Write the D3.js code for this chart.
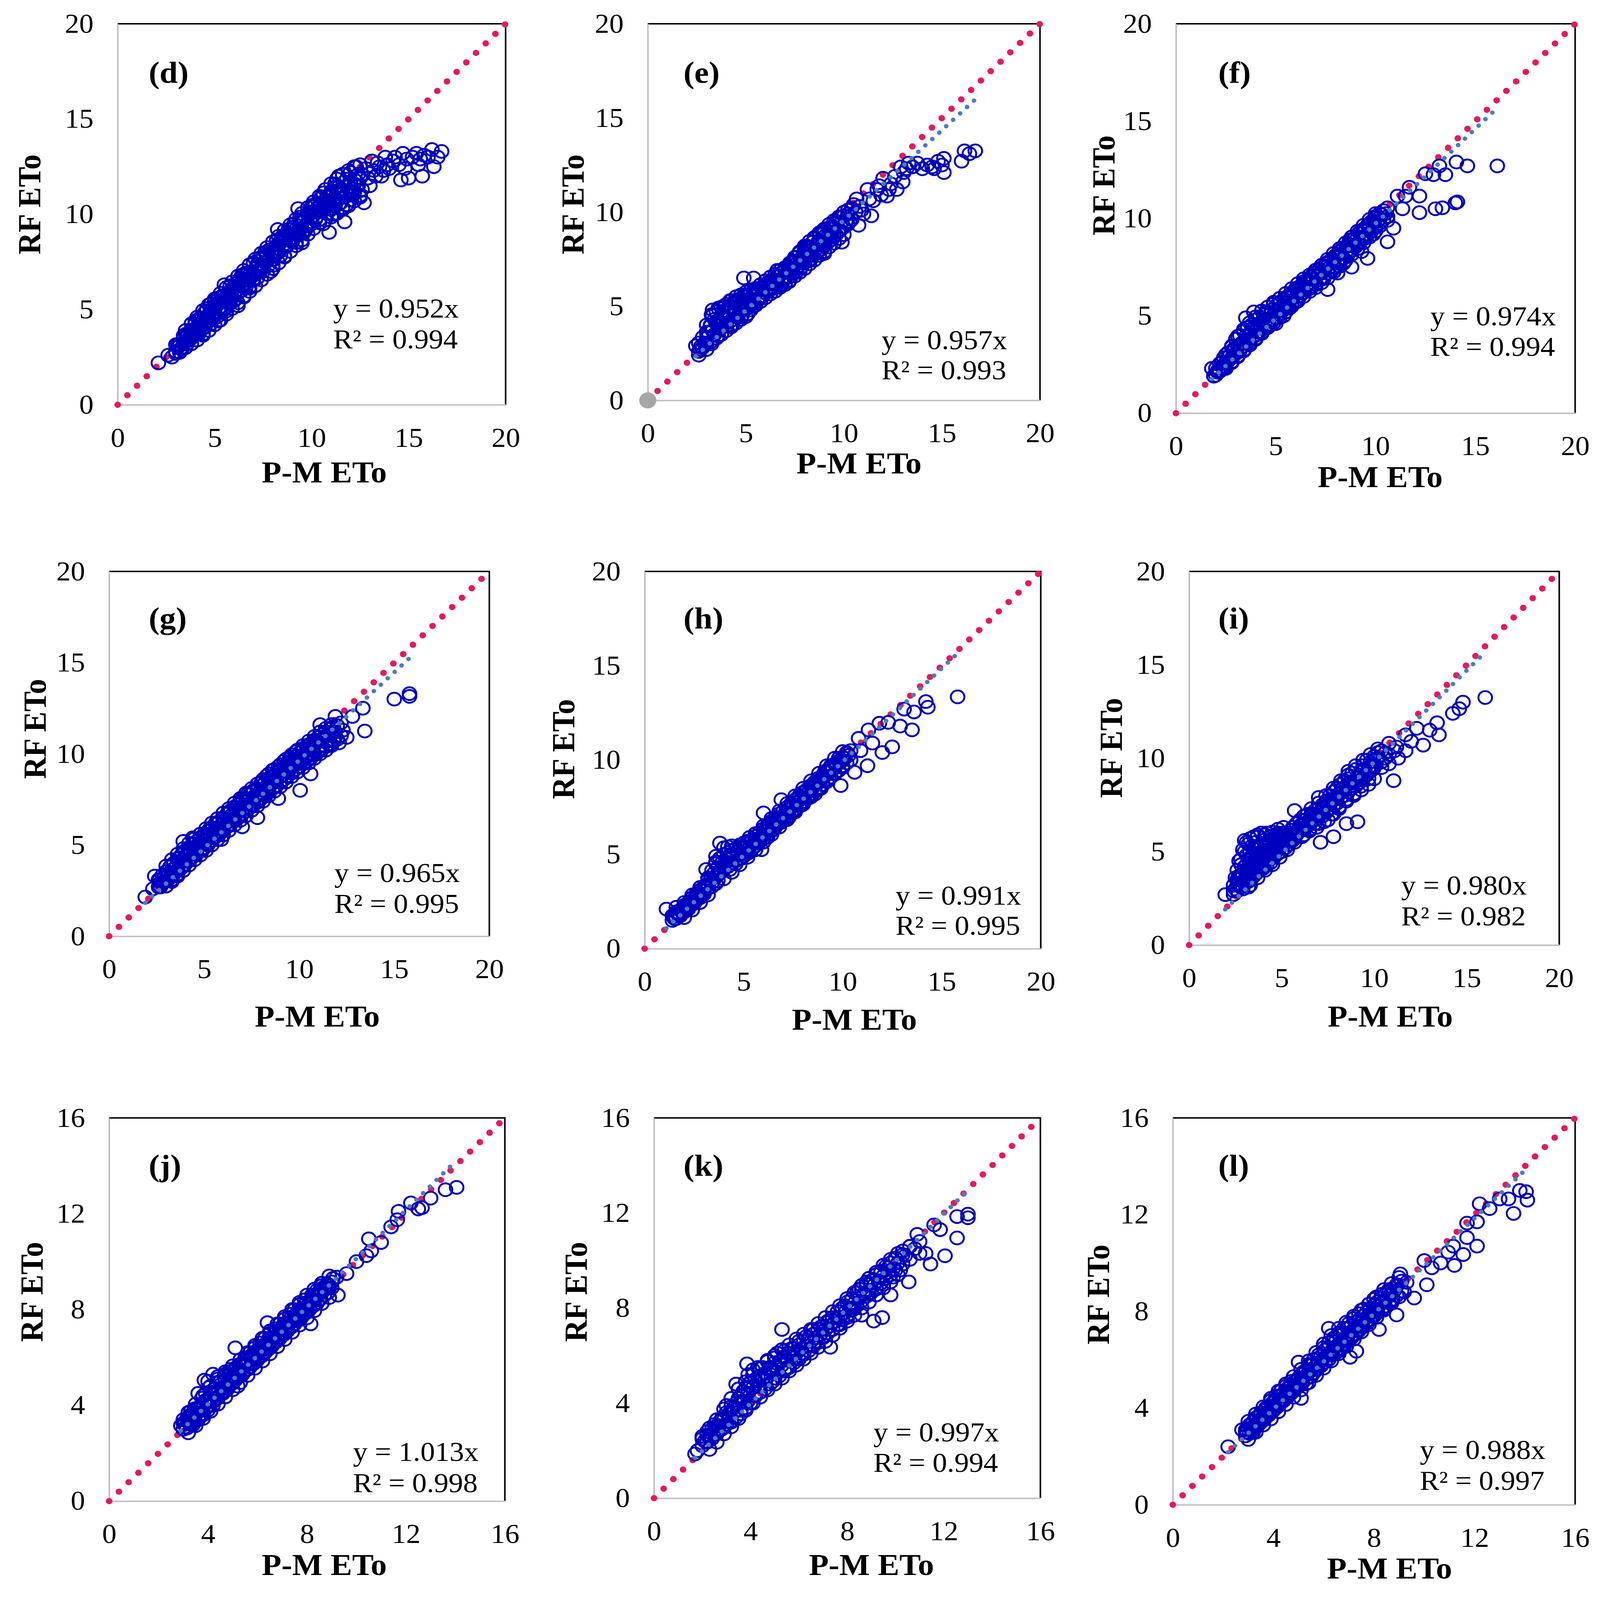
<!DOCTYPE html>
<html>
<head>
<meta charset="utf-8">
<script src="https://cdn.jsdelivr.net/npm/d3@7"></script>
<style>
  html, body { margin: 0; padding: 0; background: #fff; overflow: hidden; }
  svg { display: block; width: 100vw; height: 100vh; }
  text { font-family: "Liberation Serif", "Times New Roman", serif; }
</style>
</head>
<body>
<div id="chart"></div>
<script>
// panel tags, regression text and axis ranges
var panelTags = ["(d)", "(e)", "(f)", "(g)", "(h)", "(i)", "(j)", "(k)", "(l)"];
var slopeText = ["0.952", "0.957", "0.974", "0.965", "0.991", "0.980", "1.013", "0.997", "0.988"];
var slopes = [0.952, 0.957, 0.974, 0.965, 0.991, 0.980, 1.013, 0.997, 0.988];
var r2Text = ["0.994", "0.993", "0.994", "0.995", "0.995", "0.982", "0.998", "0.994", "0.997"];
var axisMax = [20, 20, 20, 20, 20, 20, 16, 16, 16];
var tickStep = [5, 5, 5, 5, 5, 5, 4, 4, 4];
var showTrend = [false, true, true, true, true, true, true, true, true];
var originDot = [false, true, false, false, false, false, false, false, false];

// [P-M ETo, RF ETo]: edge / stray points
var ptsD = [[2.1,2.2],[2.6,2.6],[2.8,2.5],[3.0,2.8],[3.2,3.1],[3.3,2.9],[3.5,3.3],[3.6,3.6],[3.8,3.5],[3.9,3.9],[4.0,3.7],[4.2,4.0],[4.3,4.3],[4.5,4.1],[4.6,4.6],[4.7,4.4],[4.8,5.3],[4.9,4.8],[5.0,5.1],[5.1,4.6],[5.2,4.4],[5.2,5.6],[5.3,5.0],[5.4,5.4],[5.5,6.3],[5.6,5.1],[5.7,5.8],[5.8,5.4],[5.9,6.0],[6.0,5.5],[6.1,6.2],[6.2,5.2],[6.3,6.6],[6.4,6.0],[6.5,5.7],[6.6,6.4],[6.7,6.9],[6.8,6.2],[7.0,6.6],[7.1,7.0],[7.3,7.7],[7.35,7.0],[7.5,7.3],[7.7,7.9],[7.9,7.0],[8.0,7.6],[8.1,8.2],[8.25,9.2],[8.3,8.0],[8.5,8.6],[8.6,7.8],[8.7,8.3],[8.8,9.0],[9.0,8.7],[9.1,9.5],[9.3,10.3],[9.3,8.9],[9.5,8.5],[9.5,9.6],[9.7,9.2],[9.8,10.0],[10.0,9.5],[10.1,10.5],[10.2,9.8],[10.4,10.2],[10.5,10.9],[10.6,9.5],[10.7,10.6],[10.9,9.05],[10.9,10.3],[11.0,11.2],[11.1,10.0],[11.2,11.6],[11.3,10.7],[11.4,12.0],[11.5,11.1],[11.7,9.6],[11.7,11.7],[11.8,10.5],[12.0,12.2],[12.0,11.0],[12.2,11.6],[12.3,12.5],[12.5,10.9],[12.5,11.9],[12.7,10.6],[12.8,12.4],[13.0,11.5],[13.1,12.8],[13.3,12.0],[13.5,12.5],[13.6,12.0],[13.8,13.0],[14.0,12.4],[14.2,12.8],[14.5,12.6],[14.6,11.8],[14.7,13.2],[14.9,12.9],[15.0,11.9],[15.2,13.0],[15.4,13.2],[15.6,12.9],[15.7,12.0],[15.8,13.1],[16.0,13.0],[16.2,13.4],[16.3,12.5],[16.7,13.3]];
var ptsE = [[2.45,2.9],[2.6,2.4],[2.7,2.7],[2.9,3.0],[3.0,3.3],[3.1,3.6],[3.2,4.0],[3.3,4.8],[3.4,3.5],[3.5,4.2],[3.6,4.9],[3.7,3.8],[3.8,4.4],[3.9,5.0],[4.0,4.1],[4.1,4.7],[4.2,5.3],[4.3,4.0],[4.4,4.6],[4.5,5.2],[4.6,4.4],[4.7,5.4],[4.8,4.8],[4.9,6.5],[5.0,5.2],[5.1,4.6],[5.2,5.6],[5.4,6.5],[5.4,5.0],[5.5,5.8],[5.7,5.4],[5.8,6.0],[6.0,5.7],[6.2,6.3],[6.3,5.9],[6.5,6.4],[6.6,6.9],[6.7,6.1],[6.9,6.5],[7.0,7.0],[7.2,6.3],[7.3,6.8],[7.4,7.4],[7.6,7.0],[7.7,7.8],[7.8,7.3],[8.0,7.6],[8.1,8.2],[8.3,7.5],[8.4,8.0],[8.5,8.6],[8.7,7.9],[8.8,8.4],[8.9,9.0],[9.0,7.8],[9.1,8.6],[9.3,9.1],[9.5,8.7],[9.6,9.4],[9.9,8.4],[10.0,9.8],[10.2,10.1],[10.3,9.5],[10.5,10.4],[10.65,10.7],[10.75,9.3],[10.9,10.1],[11.2,11.2],[11.4,9.8],[11.5,10.6],[11.7,11.2],[11.9,10.9],[12.0,11.8],[12.2,10.85],[12.4,11.5],[12.7,11.2],[12.9,12.4],[13.05,12.1],[13.3,12.6],[13.75,12.6],[14.0,12.3],[14.25,12.5],[14.5,12.4],[14.8,12.7],[15.1,12.1],[15.1,12.85],[16.0,12.7],[16.15,13.25],[16.4,13.1],[16.7,13.25]];
var ptsF = [[1.8,2.3],[1.9,1.9],[2.1,2.2],[2.3,2.6],[2.4,2.3],[2.6,2.9],[2.8,2.6],[2.9,3.2],[3.1,2.9],[3.2,3.5],[3.4,3.2],[3.5,4.9],[3.5,3.8],[3.7,3.5],[3.8,4.3],[3.9,5.2],[4.0,3.8],[4.2,4.5],[4.3,4.1],[4.5,5.2],[4.6,4.4],[4.8,4.8],[4.9,5.6],[5.0,4.6],[5.2,5.3],[5.4,5.0],[5.5,5.8],[5.7,5.4],[5.9,6.1],[6.0,5.7],[6.2,6.4],[6.4,6.0],[6.5,6.8],[6.7,6.4],[6.9,7.2],[7.0,6.6],[7.2,7.4],[7.4,6.9],[7.6,6.35],[7.6,7.7],[7.8,7.3],[8.0,8.0],[8.1,7.2],[8.3,8.4],[8.4,7.7],[8.6,8.2],[8.7,8.9],[8.8,7.5],[9.0,8.6],[9.2,9.3],[9.3,8.3],[9.5,9.0],[9.6,7.95],[9.7,9.7],[9.9,9.2],[10.0,10.1],[10.2,9.6],[10.4,10.4],[10.6,8.8],[10.6,9.9],[10.9,9.5],[11.1,11.15],[11.35,10.5],[11.5,11.15],[11.7,11.6],[12.2,11.15],[12.2,10.3],[12.5,12.3],[12.9,12.25],[13.0,10.5],[13.2,12.7],[13.35,10.55],[13.5,12.25],[14.0,10.8],[14.05,12.9],[14.1,10.85],[14.6,12.7],[16.1,12.7]];
var ptsG = [[1.9,2.15],[2.3,2.6],[2.4,3.3],[2.65,3.1],[2.7,2.7],[2.9,3.0],[3.1,3.3],[3.3,3.1],[3.4,3.7],[3.6,3.4],[3.7,4.3],[3.8,3.8],[3.9,5.2],[4.0,4.1],[4.2,4.7],[4.3,4.3],[4.4,5.4],[4.6,4.6],[4.7,5.1],[4.9,4.7],[5.0,5.5],[5.2,5.0],[5.3,5.9],[5.5,5.4],[5.6,6.2],[5.8,5.7],[5.9,5.3],[6.0,6.4],[6.2,6.0],[6.3,6.8],[6.5,6.3],[6.6,7.1],[6.8,6.6],[7.0,6.0],[7.0,7.5],[7.1,7.0],[7.3,7.8],[7.4,7.2],[7.6,8.0],[7.8,6.5],[7.8,7.5],[8.0,8.4],[8.1,7.8],[8.3,8.8],[8.4,8.1],[8.6,9.1],[8.7,8.5],[8.9,7.55],[8.9,9.3],[9.1,8.8],[9.2,9.6],[9.4,9.0],[9.5,9.8],[9.7,9.3],[9.8,10.1],[10.05,8.0],[10.0,9.6],[10.2,10.3],[10.3,9.7],[10.5,10.5],[10.6,8.9],[10.6,10.0],[10.8,10.6],[11.0,10.2],[11.1,11.6],[11.2,10.8],[11.4,10.4],[11.5,11.0],[11.7,10.5],[11.9,12.05],[11.9,11.2],[12.1,10.6],[12.3,11.3],[12.5,10.9],[12.8,12.05],[13.35,12.5],[13.45,11.25],[15.0,13.0],[15.8,13.3],[15.8,13.15]];
var ptsH = [[1.1,2.1],[1.45,1.7],[1.7,1.85],[1.6,2.2],[1.9,1.9],[2.1,2.2],[2.3,2.5],[2.5,2.4],[2.6,2.8],[2.8,2.7],[3.0,3.1],[3.1,4.2],[3.2,3.4],[3.4,3.3],[3.5,3.8],[3.6,4.6],[3.7,3.6],[3.8,5.6],[3.9,4.1],[4.0,5.0],[4.1,4.6],[4.2,5.4],[4.3,4.2],[4.4,4.9],[4.6,4.5],[4.7,5.2],[4.9,4.8],[5.0,5.6],[5.2,5.1],[5.3,5.9],[5.5,5.4],[5.6,6.1],[5.8,5.7],[5.9,5.25],[6.0,7.2],[6.0,6.2],[6.2,5.9],[6.3,6.6],[6.5,6.3],[6.7,6.9],[6.9,7.9],[6.9,6.7],[7.1,7.2],[7.3,7.0],[7.4,7.6],[7.6,7.3],[7.8,8.0],[7.9,7.6],[8.1,8.3],[8.3,8.0],[8.4,8.6],[8.6,8.2],[8.8,8.9],[8.9,8.5],[9.1,9.4],[9.3,9.0],[9.4,9.7],[9.6,9.3],[9.8,10.1],[9.9,8.65],[10.0,9.7],[10.2,10.4],[10.4,10.0],[10.6,9.35],[10.8,11.15],[10.9,10.5],[11.25,9.7],[11.3,11.6],[11.5,10.9],[11.85,11.95],[12.0,10.4],[12.3,12.0],[12.5,10.7],[12.9,11.8],[13.1,12.7],[13.5,11.6],[13.6,12.55],[14.2,13.1],[14.3,12.8],[15.8,13.35]];
var ptsI = [[1.95,2.7],[2.4,2.9],[2.6,3.2],[2.7,3.7],[2.8,4.3],[2.9,3.4],[3.0,5.6],[3.0,4.0],[3.1,4.8],[3.2,3.1],[3.3,4.4],[3.4,5.3],[3.5,3.7],[3.6,4.9],[3.7,5.8],[3.8,4.2],[3.9,5.3],[4.0,4.6],[4.1,5.9],[4.3,5.1],[4.4,4.4],[4.5,5.7],[4.7,5.0],[4.8,5.9],[5.0,5.3],[5.2,5.8],[5.3,5.5],[5.5,6.15],[5.6,5.6],[5.7,7.2],[5.8,6.1],[6.0,6.4],[6.2,5.9],[6.3,6.7],[6.5,6.2],[6.6,7.0],[6.8,6.5],[7.0,7.9],[7.0,6.9],[7.1,5.5],[7.3,7.3],[7.5,6.7],[7.6,7.6],[7.8,5.8],[7.8,7.0],[8.0,7.9],[8.1,7.3],[8.3,8.2],[8.5,6.5],[8.5,7.7],[8.6,9.3],[8.7,8.5],[8.9,8.0],[9.1,6.6],[9.1,8.8],[9.3,8.3],[9.5,9.1],[9.7,8.6],[9.9,9.4],[10.0,8.9],[10.2,10.3],[10.4,9.5],[10.6,10.0],[10.8,9.7],[11.05,8.8],[11.1,10.4],[11.3,10.0],[11.7,10.4],[11.7,11.25],[12.0,10.9],[12.3,11.6],[12.65,10.7],[13.0,11.5],[13.4,11.9],[13.5,11.25],[14.25,12.4],[14.6,12.65],[14.8,13.0],[16.0,13.25]];
var ptsJ = [[2.9,3.15],[3.0,3.4],[3.1,3.1],[3.2,3.3],[3.3,3.5],[3.4,3.2],[3.5,3.7],[3.6,3.4],[3.7,3.9],[3.8,3.6],[3.85,5.05],[3.9,4.2],[4.0,3.8],[4.1,4.5],[4.2,5.3],[4.2,4.0],[4.3,4.7],[4.4,4.3],[4.5,5.0],[4.6,4.5],[4.7,5.3],[4.8,4.7],[4.9,5.5],[5.0,5.0],[5.1,6.4],[5.1,5.3],[5.2,4.8],[5.3,5.7],[5.4,5.3],[5.5,6.0],[5.6,5.5],[5.7,6.2],[5.8,5.8],[5.9,6.4],[6.0,6.0],[6.1,6.6],[6.2,6.2],[6.3,6.8],[6.4,7.45],[6.4,6.4],[6.5,7.0],[6.6,6.6],[6.7,7.2],[6.8,6.8],[6.9,7.4],[7.0,7.0],[7.1,7.6],[7.2,7.2],[7.3,7.8],[7.4,7.3],[7.5,8.0],[7.6,7.6],[7.7,8.2],[7.8,7.8],[7.9,8.4],[8.0,8.0],[8.15,7.4],[8.2,8.6],[8.3,8.2],[8.4,8.8],[8.5,8.4],[8.6,9.0],[8.7,8.6],[8.9,8.9],[9.05,9.3],[9.25,8.6],[9.6,9.5],[10.0,10.0],[10.4,10.25],[10.5,10.95],[10.6,10.45],[11.0,10.8],[11.4,11.45],[11.65,11.75],[11.7,12.1],[12.2,12.45],[12.5,12.2],[12.65,12.25],[13.0,12.65],[13.6,13.0],[14.05,13.1]];
var ptsK = [[1.7,1.86],[1.8,2.0],[2.0,2.5],[2.2,2.8],[2.3,2.5],[2.5,3.1],[2.6,2.8],[2.8,3.3],[2.9,3.0],[3.0,3.9],[3.1,3.4],[3.2,3.2],[3.3,3.8],[3.4,4.8],[3.5,4.2],[3.6,3.7],[3.7,4.5],[3.85,5.65],[3.9,4.1],[4.0,4.9],[4.1,5.4],[4.2,4.4],[4.3,5.1],[4.4,4.7],[4.5,5.5],[4.6,5.0],[4.8,5.4],[4.9,4.9],[5.0,5.9],[5.1,5.3],[5.3,7.1],[5.3,5.8],[5.4,6.2],[5.5,5.5],[5.7,6.3],[5.8,5.9],[6.0,6.6],[6.1,6.1],[6.3,6.8],[6.4,6.4],[6.6,7.1],[6.7,6.6],[6.9,7.2],[7.0,6.8],[7.2,7.4],[7.3,6.35],[7.4,7.1],[7.6,7.6],[7.7,7.3],[7.9,8.1],[8.0,7.6],[8.2,8.4],[8.3,8.0],[8.5,8.8],[8.6,7.7],[8.6,8.3],[8.8,9.1],[8.9,8.6],[9.1,7.45],[9.1,9.2],[9.2,8.8],[9.45,7.6],[9.4,9.5],[9.5,9.0],[9.7,9.7],[9.8,8.55],[9.9,9.3],[10.0,10.1],[10.2,9.6],[10.3,10.4],[10.55,9.1],[10.6,10.6],[10.9,11.1],[11.25,10.3],[11.45,9.85],[11.6,11.5],[11.85,11.3],[12.05,10.2],[12.55,10.95],[12.55,11.85],[13.0,11.8],[13.0,11.95]];
var ptsL = [[2.2,2.4],[2.75,3.1],[2.9,3.0],[3.1,3.3],[3.2,3.0],[3.3,3.6],[3.4,3.3],[3.5,3.8],[3.6,3.5],[3.7,4.0],[3.8,3.7],[3.9,4.3],[4.0,3.9],[4.1,4.5],[4.2,4.1],[4.3,4.7],[4.4,4.3],[4.5,4.9],[4.6,4.5],[4.7,5.1],[4.8,4.7],[5.0,5.9],[5.0,5.2],[5.1,4.4],[5.2,5.5],[5.3,5.0],[5.4,5.8],[5.5,5.3],[5.6,6.0],[5.7,5.6],[5.8,6.2],[5.9,5.8],[6.0,6.5],[6.1,6.0],[6.2,7.3],[6.2,6.7],[6.3,6.2],[6.4,6.9],[6.5,6.4],[6.6,7.1],[6.7,6.6],[6.8,7.3],[6.9,6.8],[7.05,6.1],[7.0,7.5],[7.1,7.0],[7.2,7.7],[7.3,6.35],[7.3,7.2],[7.4,7.9],[7.5,7.4],[7.6,8.1],[7.7,7.6],[7.8,8.3],[7.9,7.8],[8.0,8.5],[8.1,8.0],[8.2,7.25],[8.3,8.7],[8.4,8.2],[8.6,8.9],[8.7,8.4],[8.9,7.85],[8.9,9.1],[9.05,9.55],[9.2,8.8],[9.6,8.55],[10.0,10.1],[10.1,9.1],[10.3,9.8],[10.65,10.0],[10.95,10.45],[11.15,10.7],[11.2,9.9],[11.55,10.35],[11.7,11.05],[11.7,11.65],[12.1,10.7],[12.1,11.7],[12.2,12.45],[12.6,12.25],[13.0,12.65],[13.35,12.65],[13.55,12.05],[13.8,13.0],[14.05,12.95],[14.1,12.6]];

// dense core of each cloud (where the circles merge into a solid band)
var coreD = [[3.0,3.15],[3.0,2.69],[3.2,3.17],[3.2,2.75],[3.4,3.63],[3.4,3.23],[3.6,3.23],[3.6,3.67],[3.8,3.9],[3.8,3.57],[4.0,3.85],[4.0,4.4],[4.2,4.52],[4.2,3.75],[4.4,4.42],[4.4,3.72],[4.6,5.05],[4.6,4.38],[4.8,4.25],[4.8,4.98],[5.0,5.23],[5.0,4.68],[5.2,5.05],[5.4,5.72],[5.4,4.95],[5.6,5.62],[5.6,4.92],[5.8,6.25],[5.8,5.58],[6.0,5.45],[6.0,6.18],[6.2,6.43],[6.2,5.88],[6.4,6.25],[6.4,6.8],[6.6,6.92],[6.6,6.15],[6.8,6.82],[6.8,6.12],[7.0,7.45],[7.0,6.78],[7.2,6.65],[7.2,7.38],[7.4,7.63],[7.4,7.08],[7.6,7.45],[7.6,8.0],[7.8,8.12],[7.8,7.35],[8.0,8.02],[8.0,7.32],[8.2,8.65],[8.2,7.98],[8.4,7.85],[8.4,8.58],[8.6,8.83],[8.6,8.28],[8.8,8.65],[8.8,9.2],[9.0,9.32],[9.0,8.55],[9.2,9.22],[9.2,8.52],[9.4,9.85],[9.4,9.18],[9.6,9.05],[9.6,9.78],[9.8,10.03],[9.8,9.48],[10.0,9.85],[10.0,10.4],[10.2,10.52],[10.2,9.75],[10.4,10.42],[10.4,9.72],[10.6,11.12],[10.6,10.32],[10.8,10.04],[10.8,10.92],[11.0,11.1],[11.0,10.44],[11.2,10.76],[11.2,11.42],[11.4,11.44],[11.4,10.52],[11.6,11.2],[11.6,10.36],[11.8,11.84],[11.8,11.04],[12.0,10.76],[12.0,11.64],[12.2,11.82],[12.2,11.16],[12.4,11.5],[12.4,12.1],[12.6,12.1],[12.6,11.3],[13.2,12.3],[13.4,12.7],[13.9,12.6],[14.3,13.0],[14.8,12.4],[15.5,12.6],[16.5,13.0],[12.9,11.9],[13.7,12.3]];
var coreE = [[2.6,3.05],[2.6,2.6],[2.8,3.35],[2.8,2.8],[3.0,3.63],[3.0,3.0],[3.2,3.1],[3.2,3.95],[3.4,4.3],[3.4,3.5],[3.6,4.12],[3.6,3.7],[3.8,4.73],[3.8,4.05],[4.0,3.95],[4.0,4.72],[4.2,4.9],[4.2,4.2],[4.4,4.75],[4.4,5.2],[4.6,5.35],[4.6,4.5],[4.8,4.5],[4.8,5.25],[5.0,5.5],[5.0,4.85],[5.2,5.2],[5.2,5.65],[5.4,5.6],[5.4,5.15],[5.6,5.4],[5.6,5.8],[5.8,5.95],[5.8,5.55],[6.0,6.15],[6.0,5.7],[6.2,5.85],[6.2,6.25],[6.4,6.4],[6.4,6.0],[6.6,6.55],[6.6,6.15],[6.8,6.3],[6.8,6.75],[7.0,6.9],[7.0,6.45],[7.2,7.05],[7.2,6.55],[7.4,6.75],[7.4,7.3],[7.6,7.6],[7.6,6.85],[7.8,7.5],[7.8,7.05],[8.0,8.0],[8.0,7.3],[8.2,7.45],[8.2,8.15],[8.4,8.4],[8.4,7.7],[8.6,8.25],[8.6,7.8],[8.8,8.8],[8.8,8.0],[9.0,8.2],[9.0,8.9],[9.2,9.15],[9.2,8.4],[9.4,8.95],[9.4,8.55],[9.6,9.5],[9.6,8.8],[9.8,9.0],[9.8,9.7],[10.0,9.8],[10.0,9.2],[10.2,9.9],[10.2,9.35],[10.4,10.2],[10.4,9.6],[10.8,10.3],[11.0,9.9],[11.3,10.7],[11.8,11.4],[12.3,11.2],[12.6,11.9],[13.2,12.3],[13.5,12.4],[14.6,12.3],[15.0,12.5],[13.0,11.6],[10.6,10.0]];
var coreF = [[2.0,2.3],[2.0,1.95],[2.2,2.55],[2.2,2.15],[2.4,2.4],[2.4,2.85],[2.6,3.1],[2.6,2.65],[2.8,3.4],[2.8,2.85],[3.0,3.05],[3.0,3.8],[3.2,4.0],[3.2,3.2],[3.4,3.45],[3.4,4.2],[3.6,4.4],[3.6,3.65],[3.8,4.55],[3.8,3.85],[4.0,4.0],[4.0,4.8],[4.2,4.95],[4.2,4.2],[4.4,4.35],[4.4,5.05],[4.6,5.2],[4.6,4.5],[4.8,5.3],[4.8,4.7],[5.0,4.9],[5.0,5.5],[5.2,5.65],[5.2,5.05],[5.4,5.3],[5.4,5.85],[5.6,6.0],[5.6,5.45],[5.8,5.6],[5.8,6.15],[6.0,6.4],[6.0,5.8],[6.2,6.0],[6.2,6.5],[6.4,6.75],[6.4,6.2],[6.6,6.35],[6.6,6.85],[6.8,7.0],[6.8,6.5],[7.0,6.6],[7.0,7.2],[7.2,7.4],[7.2,6.85],[7.4,7.0],[7.4,7.55],[7.6,7.75],[7.6,7.2],[7.8,7.35],[7.8,7.9],[8.0,8.1],[8.0,7.5],[8.2,7.7],[8.2,8.3],[8.4,8.5],[8.4,7.95],[8.6,8.1],[8.6,8.65],[8.8,8.9],[8.8,8.35],[9.0,8.55],[9.0,9.05],[9.2,9.25],[9.2,8.75],[9.4,8.95],[9.4,9.45],[9.6,9.65],[9.6,9.15],[9.8,9.35],[9.8,9.85],[10.0,10.05],[10.0,9.55],[10.2,9.75],[10.2,10.25],[10.4,10.4],[10.4,9.95],[10.6,10.55],[10.6,10.1]];
var coreG = [[2.6,3.1],[2.6,2.7],[2.8,2.9],[2.8,3.35],[3.0,3.55],[3.0,3.05],[3.2,3.2],[3.2,3.8],[3.4,4.0],[3.4,3.4],[3.6,4.25],[3.6,3.6],[3.8,3.75],[3.8,4.45],[4.0,4.7],[4.0,3.95],[4.2,4.15],[4.2,4.85],[4.4,5.05],[4.4,4.35],[4.6,5.2],[4.6,4.5],[4.8,4.7],[4.8,5.4],[5.0,5.6],[5.0,4.85],[5.2,5.05],[5.2,5.75],[5.4,5.95],[5.4,5.25],[5.6,6.15],[5.6,5.45],[5.8,5.6],[5.8,6.3],[6.0,6.5],[6.0,5.8],[6.2,6.0],[6.2,6.7],[6.4,6.9],[6.4,6.15],[6.6,7.05],[6.6,6.35],[6.8,6.5],[6.8,7.2],[7.0,7.4],[7.0,6.7],[7.2,6.85],[7.2,7.55],[7.4,7.75],[7.4,7.05],[7.6,7.9],[7.6,7.2],[7.8,7.35],[7.8,8.05],[8.0,8.25],[8.0,7.55],[8.2,7.7],[8.2,8.4],[8.4,8.6],[8.4,7.9],[8.6,8.8],[8.6,8.1],[8.8,8.25],[8.8,8.95],[9.0,9.15],[9.0,8.45],[9.2,8.6],[9.2,9.3],[9.4,9.5],[9.4,8.8],[9.6,9.65],[9.6,8.95],[9.8,9.15],[9.8,9.85],[10.0,10.05],[10.0,9.3],[10.2,9.45],[10.2,10.2],[10.4,10.4],[10.4,9.6],[10.6,10.55],[10.6,9.75],[10.8,9.95],[10.8,10.75],[11.0,10.9],[11.0,10.1],[11.2,10.25],[11.2,11.05],[11.4,11.2],[11.4,10.4],[11.6,11.35],[11.6,10.55],[11.8,10.7],[11.8,11.5],[12.0,11.55],[12.0,10.8],[12.2,11.0],[12.2,11.7]];
var coreH = [[1.4,1.75],[1.4,1.5],[1.6,1.6],[1.6,1.95],[1.8,2.05],[1.8,1.75],[2.0,2.3],[2.0,1.95],[2.2,2.1],[2.2,2.45],[2.4,2.7],[2.4,2.35],[2.6,2.55],[2.6,2.9],[2.8,3.1],[2.8,2.75],[3.0,2.9],[3.0,3.3],[3.2,3.65],[3.2,3.2],[3.4,3.5],[3.4,4.15],[3.6,4.5],[3.6,3.8],[3.8,4.0],[3.8,4.8],[4.0,5.0],[4.0,4.2],[4.2,4.35],[4.2,5.1],[4.4,5.2],[4.4,4.55],[4.6,4.65],[4.6,5.3],[4.8,5.35],[4.8,4.8],[5.0,4.9],[5.0,5.45],[5.2,5.55],[5.2,5.05],[5.4,5.25],[5.4,5.75],[5.6,5.95],[5.6,5.45],[5.8,5.65],[5.8,6.15],[6.0,6.35],[6.0,5.85],[6.2,6.05],[6.2,6.55],[6.4,6.75],[6.4,6.25],[6.6,6.45],[6.6,6.95],[6.8,7.15],[6.8,6.65],[7.0,6.8],[7.0,7.3],[7.2,7.5],[7.2,7.0],[7.4,7.2],[7.4,7.7],[7.6,7.9],[7.6,7.4],[7.8,7.6],[7.8,8.1],[8.0,8.3],[8.0,7.8],[8.2,7.95],[8.2,8.45],[8.4,8.65],[8.4,8.15],[8.6,8.35],[8.6,8.85],[8.8,9.05],[8.8,8.55],[9.0,8.7],[9.0,9.2],[9.2,9.4],[9.2,8.9],[9.4,9.1],[9.4,9.6],[9.6,9.8],[9.6,9.3],[9.8,9.45],[9.8,9.95],[10.0,10.15],[10.0,9.65],[10.2,9.85],[10.2,10.35],[10.4,10.5],[10.4,10.0]];
var coreI = [[2.4,2.7],[2.4,3.2],[2.6,2.9],[2.6,3.5],[2.6,4.0],[2.8,3.1],[2.8,3.7],[2.8,4.6],[3.0,3.3],[3.0,4.2],[3.0,5.0],[3.2,3.4],[3.2,3.9],[3.2,4.6],[3.2,5.4],[3.4,3.6],[3.4,4.1],[3.4,4.8],[3.6,3.8],[3.6,4.4],[3.6,5.5],[3.8,4.0],[3.8,4.7],[3.8,5.2],[4.0,4.1],[4.0,4.9],[4.0,5.6],[4.2,4.3],[4.2,4.8],[4.2,5.4],[4.4,4.6],[4.4,5.1],[4.4,5.8],[4.6,4.7],[4.6,5.4],[4.8,4.9],[4.8,5.5],[4.8,6.0],[5.0,5.0],[5.0,5.7],[5.2,5.2],[5.2,5.9],[5.4,5.4],[5.4,6.0],[5.6,5.8],[5.6,6.3],[5.8,5.9],[5.8,6.5],[6.0,6.1],[6.0,6.7],[6.2,6.2],[6.2,6.5],[6.4,6.4],[6.4,7.0],[6.6,6.6],[6.6,6.9],[6.8,6.7],[6.8,7.2],[7.0,6.5],[7.0,7.3],[7.2,6.9],[7.2,7.5],[7.4,7.1],[7.4,7.7],[7.6,7.3],[7.6,8.0],[7.8,7.5],[7.8,8.2],[8.0,7.6],[8.0,8.4],[8.2,7.9],[8.2,8.6],[8.4,8.0],[8.4,8.8],[8.6,8.2],[8.6,8.9],[8.8,8.4],[8.8,9.2],[9.0,8.5],[9.0,9.4],[9.2,8.7],[9.2,9.1],[9.4,8.9],[9.4,9.6],[9.6,9.1],[9.6,9.9],[9.8,9.3],[9.8,9.8],[10.0,9.5],[10.0,10.1],[10.4,9.8],[10.4,10.4],[10.8,10.2],[10.8,10.8],[11.2,10.6]];
var coreJ = [[3.0,3.25],[3.0,3.0],[3.15,3.05],[3.15,3.45],[3.3,3.6],[3.3,3.2],[3.45,3.35],[3.45,3.85],[3.6,3.9],[3.6,3.5],[3.75,3.65],[3.75,4.3],[3.9,4.5],[3.9,3.85],[4.05,4.0],[4.05,4.75],[4.2,4.55],[4.2,4.15],[4.35,4.3],[4.35,4.95],[4.5,4.85],[4.5,4.45],[4.65,4.6],[4.65,5.2],[4.8,5.1],[4.8,4.75],[4.95,4.9],[4.95,5.4],[5.1,5.55],[5.1,5.05],[5.25,5.2],[5.25,5.7],[5.4,5.75],[5.4,5.35],[5.55,5.5],[5.55,5.95],[5.7,6.0],[5.7,5.6],[5.85,5.75],[5.85,6.2],[6.0,6.3],[6.0,5.9],[6.15,6.05],[6.15,6.45],[6.3,6.55],[6.3,6.2],[6.45,6.35],[6.45,6.75],[6.6,6.85],[6.6,6.5],[6.75,6.65],[6.75,7.05],[6.9,7.15],[6.9,6.8],[7.05,6.95],[7.05,7.35],[7.2,7.45],[7.2,7.1],[7.35,7.25],[7.35,7.65],[7.5,7.75],[7.5,7.4],[7.65,7.55],[7.65,7.95],[7.8,8.05],[7.8,7.7],[7.95,7.85],[7.95,8.25],[8.1,8.35],[8.1,8.0],[8.25,8.15],[8.25,8.55],[8.4,8.6],[8.4,8.25],[8.55,8.45],[8.55,8.85],[8.7,8.95],[8.7,8.6],[8.85,8.7],[8.85,9.05],[9.0,9.15],[9.0,8.9],[9.2,9.35]];
var coreK = [[2.0,2.2],[2.0,2.6],[2.2,2.65],[2.2,2.35],[2.4,2.5],[2.4,2.9],[2.6,3.05],[2.6,2.7],[2.8,2.9],[2.8,3.35],[3.0,3.6],[3.0,3.1],[3.2,3.25],[3.2,3.85],[3.4,4.0],[3.4,3.4],[3.6,3.55],[3.6,4.3],[3.8,4.6],[3.8,3.8],[4.0,4.0],[4.0,4.85],[4.2,5.0],[4.2,4.3],[4.4,4.45],[4.4,5.15],[4.6,5.25],[4.6,4.6],[4.8,4.8],[4.8,5.5],[5.0,5.7],[5.0,5.05],[5.2,5.15],[5.2,5.75],[5.4,5.95],[5.4,5.35],[5.6,5.5],[5.6,6.1],[5.8,6.3],[5.8,5.7],[6.0,5.85],[6.0,6.45],[6.2,6.6],[6.2,6.05],[6.4,6.2],[6.4,6.75],[6.6,6.9],[6.6,6.4],[6.8,6.55],[6.8,7.1],[7.0,7.25],[7.0,6.75],[7.2,6.95],[7.2,7.45],[7.4,7.6],[7.4,7.1],[7.6,7.3],[7.6,7.85],[7.8,8.0],[7.8,7.5],[8.0,7.7],[8.0,8.25],[8.2,8.4],[8.2,7.9],[8.4,8.1],[8.4,8.65],[8.6,8.8],[8.6,8.3],[8.8,8.5],[8.8,9.0],[9.0,9.15],[9.0,8.65],[9.2,8.85],[9.2,9.4],[9.4,9.55],[9.4,9.05],[9.6,9.25],[9.6,9.75],[9.8,9.9],[9.8,9.4],[10.0,9.6],[10.0,10.1],[10.3,10.25],[10.3,9.85],[10.6,10.05],[10.6,10.6],[11.0,10.8],[11.0,10.3]];
var coreL = [[2.9,3.1],[2.9,2.85],[3.05,2.95],[3.05,3.3],[3.2,3.45],[3.2,3.1],[3.35,3.25],[3.35,3.6],[3.5,3.7],[3.5,3.4],[3.65,3.55],[3.65,3.9],[3.8,4.05],[3.8,3.7],[3.95,3.85],[3.95,4.2],[4.1,4.35],[4.1,4.0],[4.25,4.15],[4.25,4.5],[4.4,4.6],[4.4,4.3],[4.55,4.45],[4.55,4.8],[4.7,4.95],[4.7,4.6],[4.85,4.75],[4.85,5.1],[5.0,5.25],[5.0,4.9],[5.15,5.05],[5.15,5.4],[5.3,5.55],[5.3,5.2],[5.45,5.3],[5.45,5.75],[5.6,5.85],[5.6,5.45],[5.75,5.6],[5.75,6.05],[5.9,6.15],[5.9,5.75],[6.05,5.9],[6.05,6.4],[6.2,6.5],[6.2,6.0],[6.35,6.2],[6.35,6.75],[6.5,6.8],[6.5,6.3],[6.65,6.45],[6.65,7.0],[6.8,7.1],[6.8,6.6],[6.95,6.75],[6.95,7.3],[7.1,7.4],[7.1,6.9],[7.25,7.05],[7.25,7.55],[7.4,7.65],[7.4,7.2],[7.55,7.35],[7.55,7.8],[7.7,7.95],[7.7,7.5],[7.85,7.65],[7.85,8.1],[8.0,8.25],[8.0,7.8],[8.15,7.95],[8.15,8.4],[8.3,8.55],[8.3,8.05],[8.45,8.2],[8.45,8.7],[8.6,8.8],[8.6,8.35],[8.75,8.5],[8.75,8.95],[8.9,9.05],[8.9,8.65],[9.1,8.85],[9.1,9.25],[9.3,9.2]];

// points lying between the core points, mostly near the middle of each band
var fillD = [[3.1,3.15],[3.3,3.0],[3.5,3.7],[3.7,3.55],[3.9,3.95],[4.1,3.8],[4.3,4.5],[4.5,4.35],[4.7,4.75],[4.9,4.6],[5.1,5.3],[5.3,5.15],[5.5,5.55],[5.7,5.4],[5.9,6.1],[6.1,5.95],[6.3,6.35],[6.5,6.2],[6.7,6.9],[6.9,6.75],[7.1,7.15],[7.3,7.0],[7.5,7.7],[7.7,7.55],[7.9,7.95],[8.1,7.8],[8.3,8.5],[8.5,8.35],[8.7,8.75],[8.9,8.6],[9.1,9.3],[9.3,9.15],[9.5,9.55],[9.7,9.4],[9.9,10.1],[10.1,9.95],[10.3,10.35],[10.5,10.2],[10.7,10.75],[10.9,10.45],[11.1,11.0],[11.3,10.75],[11.5,11.3],[11.7,10.9],[11.9,11.45],[12.1,11.2],[12.3,11.75],[4.5,4.85],[5.5,5.0],[6.5,6.85],[7.5,7.0],[8.5,8.85],[9.5,9.0],[10.5,10.85],[11.5,10.6],[5.0,5.45],[6.0,5.5]];
var fillE = [[2.7,2.85],[2.9,3.05],[3.1,3.6],[3.3,3.7],[3.5,4.2],[3.7,3.95],[3.9,4.5],[4.1,4.3],[4.3,4.95],[4.5,4.6],[4.7,5.1],[4.9,4.9],[5.1,5.35],[5.3,5.2],[5.5,5.65],[5.7,5.45],[5.9,5.95],[6.1,5.8],[6.3,6.2],[6.5,6.2],[6.7,6.6],[6.9,6.4],[7.1,6.8],[7.3,6.9],[7.5,7.2],[7.7,7.15],[7.9,7.7],[8.1,7.55],[8.3,8.1],[8.5,7.9],[8.7,8.45],[8.9,8.3],[9.1,8.8],[9.3,8.65],[9.5,9.2],[9.7,8.95],[9.9,9.5],[10.1,9.45],[3.3,4.5],[3.9,5.0],[4.5,5.3],[5.0,5.6],[4.2,3.9],[3.6,3.4]];
var fillF = [[2.1,2.1],[2.3,2.4],[2.5,2.6],[2.7,2.95],[2.9,3.3],[3.1,3.45],[3.3,3.6],[3.5,3.95],[3.7,4.0],[3.9,4.4],[4.1,4.45],[4.3,4.7],[4.5,4.75],[4.7,5.05],[4.9,5.05],[5.1,5.35],[5.3,5.4],[5.5,5.7],[5.7,5.75],[5.9,6.05],[6.1,6.15],[6.3,6.4],[6.5,6.45],[6.7,6.7],[6.9,6.85],[7.1,7.1],[7.3,7.2],[7.5,7.5],[7.7,7.5],[7.9,7.8],[8.1,7.85],[8.3,8.2],[8.5,8.25],[8.7,8.6],[8.9,8.65],[9.1,9.0],[9.3,9.05],[9.5,9.4],[9.7,9.45],[9.9,9.8],[10.1,9.85],[10.3,10.2],[10.5,10.25]];
var fillG = [[2.7,2.95],[2.9,3.25],[3.1,3.35],[3.3,3.65],[3.5,3.75],[3.7,4.1],[3.9,4.15],[4.1,4.5],[4.3,4.55],[4.5,4.85],[4.7,4.9],[4.9,5.25],[5.1,5.25],[5.3,5.6],[5.5,5.6],[5.7,5.95],[5.9,5.95],[6.1,6.35],[6.3,6.35],[6.5,6.7],[6.7,6.7],[6.9,7.05],[7.1,7.05],[7.3,7.4],[7.5,7.4],[7.7,7.75],[7.9,7.75],[8.1,8.1],[8.3,8.1],[8.5,8.5],[8.7,8.45],[8.9,8.85],[9.1,8.8],[9.3,9.2],[9.5,9.15],[9.7,9.55],[9.9,9.5],[10.1,9.9],[10.3,9.85],[10.5,10.3],[10.7,10.2],[10.9,10.6],[11.1,10.45],[11.3,10.9],[11.5,10.7],[11.7,11.1],[11.9,10.95]];
var fillH = [[1.5,1.6],[1.7,1.8],[1.9,2.0],[2.1,2.1],[2.3,2.4],[2.5,2.5],[2.7,2.8],[2.9,2.9],[3.1,3.3],[3.3,3.6],[3.5,4.0],[3.7,4.3],[3.9,4.55],[4.1,4.75],[4.3,4.9],[4.5,5.0],[4.7,5.0],[4.9,5.1],[5.1,5.2],[5.3,5.4],[5.5,5.55],[5.7,5.8],[5.9,5.95],[6.1,6.2],[6.3,6.35],[6.5,6.6],[6.7,6.75],[6.9,6.95],[7.1,7.15],[7.3,7.35],[7.5,7.55],[7.7,7.75],[7.9,7.95],[8.1,8.15],[8.3,8.35],[8.5,8.55],[8.7,8.75],[8.9,8.95],[9.1,9.15],[9.3,9.35],[9.5,9.5],[9.7,9.75],[9.9,9.9],[10.1,10.1],[10.3,10.25]];
var fillI = [[2.5,3.0],[2.7,3.3],[2.9,3.8],[3.1,4.3],[3.1,3.6],[3.3,5.0],[3.3,3.8],[3.5,4.3],[3.5,5.2],[3.7,4.6],[3.7,3.9],[3.9,5.0],[3.9,4.3],[4.1,4.5],[4.1,5.2],[4.3,4.6],[4.3,5.6],[4.5,4.8],[4.5,5.3],[4.7,5.3],[4.7,5.8],[4.9,5.2],[4.9,5.7],[5.1,5.5],[5.1,6.0],[5.3,5.7],[5.5,5.6],[5.7,6.0],[5.9,6.2],[6.1,6.4],[6.3,6.3],[6.5,6.7],[6.7,6.8],[6.9,7.0],[7.1,7.1],[7.3,7.4],[7.5,7.5],[7.7,7.8],[7.9,7.8],[8.1,8.1],[8.3,8.4],[8.5,8.5],[8.7,8.7],[8.9,8.8],[9.1,9.0],[9.3,9.3],[9.5,9.4],[9.7,9.5],[9.9,9.6],[10.2,10.0],[10.6,10.3]];
var fillJ = [[3.05,3.2],[3.2,3.45],[3.35,3.4],[3.5,3.6],[3.65,3.85],[3.8,3.9],[3.95,4.15],[4.1,4.2],[4.25,4.45],[4.4,4.5],[4.55,4.75],[4.7,4.8],[4.85,5.05],[5.0,5.1],[5.15,5.35],[5.3,5.4],[5.45,5.65],[5.6,5.7],[5.75,5.95],[5.9,6.0],[6.05,6.25],[6.2,6.3],[6.35,6.55],[6.5,6.6],[6.65,6.85],[6.8,6.9],[6.95,7.15],[7.1,7.2],[7.25,7.45],[7.4,7.5],[7.55,7.75],[7.7,7.8],[7.85,8.05],[8.0,8.1],[8.15,8.35],[8.3,8.4],[8.45,8.65],[8.6,8.7],[8.75,8.9],[8.9,9.0],[3.6,4.5],[4.0,5.0],[4.4,5.2],[3.3,3.75]];
var fillK = [[2.1,2.4],[2.3,2.6],[2.5,2.85],[2.7,3.05],[2.9,3.3],[3.1,3.55],[3.3,3.6],[3.5,3.95],[3.7,4.05],[3.9,4.4],[4.1,4.65],[4.3,4.7],[4.5,5.0],[4.7,5.1],[4.9,5.3],[5.1,5.5],[5.3,5.6],[5.5,5.8],[5.7,5.95],[5.9,6.1],[6.1,6.3],[6.3,6.4],[6.5,6.6],[6.7,6.75],[6.9,6.9],[7.1,7.1],[7.3,7.25],[7.5,7.45],[7.7,7.6],[7.9,7.8],[8.1,8.0],[8.3,8.2],[8.5,8.4],[8.7,8.6],[8.9,8.75],[9.1,8.95],[9.3,9.15],[9.5,9.35],[9.7,9.5],[9.9,9.65],[10.1,9.9],[10.4,10.2],[10.8,10.5],[3.5,4.6],[3.9,5.2],[4.3,5.5],[4.7,5.8],[5.1,6.1]];
var fillL = [[2.95,3.0],[3.1,3.15],[3.25,3.3],[3.4,3.45],[3.55,3.6],[3.7,3.75],[3.85,3.9],[4.0,4.05],[4.15,4.2],[4.3,4.35],[4.45,4.5],[4.6,4.65],[4.75,4.8],[4.9,4.95],[5.05,5.1],[5.2,5.25],[5.35,5.4],[5.5,5.55],[5.65,5.7],[5.8,5.85],[5.95,6.0],[6.1,6.15],[6.25,6.3],[6.4,6.45],[6.55,6.6],[6.7,6.75],[6.85,6.9],[7.0,7.05],[7.15,7.2],[7.3,7.35],[7.45,7.5],[7.6,7.65],[7.75,7.8],[7.9,7.95],[8.05,8.1],[8.2,8.25],[8.35,8.4],[8.5,8.55],[8.65,8.7],[8.8,8.85]];

// outer edges of each band (upper and lower rims)
var rimD = [[3.5,3.9],[3.5,3.0],[3.8,4.25],[3.8,3.2],[4.1,4.6],[4.1,3.4],[4.4,4.95],[4.4,3.65],[4.7,5.25],[4.7,3.9],[5.0,5.55],[5.0,4.2],[5.3,5.85],[5.3,4.45],[5.6,6.15],[5.6,4.75],[5.9,6.45],[5.9,5.05],[6.2,6.75],[6.2,5.35],[6.5,7.05],[6.5,5.65],[6.8,7.35],[6.8,5.95],[7.1,7.65],[7.1,6.25],[7.4,7.95],[7.4,6.55],[7.7,8.25],[7.7,6.85],[8.0,8.55],[8.0,7.15],[8.3,8.85],[8.3,7.45],[8.6,9.15],[8.6,7.75],[8.9,9.45],[8.9,8.05],[9.2,9.75],[9.2,8.35],[9.5,10.05],[9.5,8.65],[9.8,10.35],[9.8,8.95],[10.1,10.65],[10.1,9.25],[10.4,10.95],[10.4,9.55],[10.7,11.3],[10.7,9.7],[11.0,11.6],[11.0,9.85],[11.3,11.85],[11.3,10.05],[11.6,12.1],[11.6,10.25],[11.9,12.3],[11.9,10.45],[12.2,12.5],[12.2,10.7],[12.5,12.6],[12.5,11.0],[4.0,4.25],[4.5,4.05],[5.0,4.9],[5.5,5.75],[6.0,5.8],[6.5,6.6],[7.0,6.9],[7.5,7.75],[8.0,7.85],[8.5,8.7],[9.0,8.95],[9.5,9.75],[10.0,9.6],[10.5,10.55],[11.0,10.25],[11.5,11.35],[12.0,11.15]];
var rimE = [[3.0,4.0],[3.0,2.7],[3.25,4.55],[3.25,3.0],[3.5,4.7],[3.5,3.3],[3.75,4.95],[3.75,3.5],[4.0,5.1],[4.0,3.7],[4.25,5.3],[4.25,3.9],[4.5,5.5],[4.5,4.1],[4.75,5.6],[4.75,4.3],[5.0,5.75],[5.0,4.45],[5.25,5.85],[5.25,4.8],[5.5,5.95],[5.5,5.05],[5.75,6.15],[5.75,5.25],[6.0,6.35],[6.0,5.45],[6.25,6.55],[6.25,5.65],[6.5,6.7],[6.5,5.8],[6.75,6.9],[6.75,6.0],[7.0,7.05],[7.0,6.15],[7.25,7.3],[7.25,6.4],[7.5,7.6],[7.5,6.6],[7.75,7.9],[7.75,6.8],[8.0,8.2],[8.0,7.0],[8.25,8.45],[8.25,7.25],[8.5,8.65],[8.5,7.45],[8.75,8.9],[8.75,7.7],[9.0,9.1],[9.0,7.9],[9.25,9.35],[9.25,8.15],[9.5,9.55],[9.5,8.35],[9.75,9.75],[9.75,8.6],[10.0,10.0],[10.0,8.8]];
var rimF = [[2.5,3.0],[2.5,2.3],[2.8,3.45],[2.8,2.65],[3.1,3.95],[3.1,2.95],[3.4,4.3],[3.4,3.25],[3.7,4.65],[3.7,3.6],[4.0,4.95],[4.0,3.85],[4.3,5.25],[4.3,4.15],[4.6,5.45],[4.6,4.4],[4.9,5.7],[4.9,4.65],[5.2,5.9],[5.2,4.9],[5.5,6.15],[5.5,5.2],[5.8,6.4],[5.8,5.5],[6.1,6.65],[6.1,5.75],[6.4,6.9],[6.4,6.0],[6.7,7.1],[6.7,6.25],[7.0,7.35],[7.0,6.45],[7.3,7.6],[7.3,6.7],[7.6,7.9],[7.6,6.95],[7.9,8.2],[7.9,7.25],[8.2,8.45],[8.2,7.55],[8.5,8.75],[8.5,7.85],[8.8,9.05],[8.8,8.15],[9.1,9.35],[9.1,8.45],[9.4,9.65],[9.4,8.75],[9.7,9.95],[9.7,9.05],[10.0,10.25],[10.0,9.35]];
var rimG = [[3.0,3.85],[3.0,2.75],[3.3,4.2],[3.3,3.0],[3.6,4.5],[3.6,3.3],[3.9,4.8],[3.9,3.6],[4.2,5.1],[4.2,3.9],[4.5,5.35],[4.5,4.2],[4.8,5.6],[4.8,4.45],[5.1,5.9],[5.1,4.7],[5.4,6.2],[5.4,5.0],[5.7,6.45],[5.7,5.3],[6.0,6.75],[6.0,5.55],[6.3,7.0],[6.3,5.8],[6.6,7.3],[6.6,6.1],[6.9,7.55],[6.9,6.35],[7.2,7.85],[7.2,6.6],[7.5,8.1],[7.5,6.9],[7.8,8.35],[7.8,7.15],[8.1,8.6],[8.1,7.4],[8.4,8.9],[8.4,7.7],[8.7,9.15],[8.7,7.95],[9.0,9.4],[9.0,8.2],[9.3,9.7],[9.3,8.45],[9.6,9.95],[9.6,8.75],[9.9,10.2],[9.9,9.0],[10.2,10.45],[10.2,9.25],[10.5,10.7],[10.5,9.5],[10.8,10.95],[10.8,9.75],[11.1,11.2],[11.1,10.0],[11.4,11.4],[11.4,10.2],[11.7,11.6],[11.7,10.45]];
var rimH = [[2.0,2.45],[2.0,1.65],[2.4,2.85],[2.4,2.05],[2.8,3.25],[2.8,2.45],[3.2,3.75],[3.2,2.85],[3.6,4.9],[3.6,3.45],[4.0,5.35],[4.0,3.7],[4.4,5.45],[4.4,4.05],[4.8,5.5],[4.8,4.45],[5.2,5.7],[5.2,4.85],[5.6,6.1],[5.6,5.25],[6.0,6.5],[6.0,5.65],[6.4,6.9],[6.4,6.05],[6.8,7.3],[6.8,6.45],[7.2,7.7],[7.2,6.85],[7.6,8.1],[7.6,7.25],[8.0,8.5],[8.0,7.65],[8.4,8.9],[8.4,8.05],[8.8,9.3],[8.8,8.45],[9.2,9.7],[9.2,8.85],[9.6,10.1],[9.6,9.25],[10.0,10.45],[10.0,9.6]];
var rimI = [[2.5,3.6],[2.7,4.5],[2.9,5.1],[3.1,5.5],[3.3,5.7],[3.5,5.8],[3.7,5.9],[3.9,6.0],[4.2,6.0],[4.5,6.05],[4.8,6.2],[5.1,6.3],[2.9,3.0],[3.3,3.2],[3.7,3.6],[4.1,4.0],[4.5,4.3],[4.9,4.7],[5.3,5.1],[5.7,5.5],[6.1,5.8],[6.5,6.1],[6.9,6.3],[7.3,6.6],[7.7,7.0],[8.1,7.4],[8.5,7.8],[8.9,8.1],[9.3,8.5],[9.7,8.9],[6.2,6.9],[6.6,7.3],[7.0,7.6],[7.4,8.0],[7.8,8.4],[8.2,8.8],[8.6,9.1],[9.0,9.6],[9.4,9.9],[9.8,10.2],[10.2,10.5]];
var rimJ = [[3.2,3.7],[3.2,2.85],[3.5,4.05],[3.5,3.15],[3.8,4.4],[3.8,3.45],[4.1,4.8],[4.1,3.75],[4.4,5.1],[4.4,4.05],[4.7,5.4],[4.7,4.35],[5.0,5.65],[5.0,4.65],[5.3,5.9],[5.3,4.95],[5.6,6.2],[5.6,5.25],[5.9,6.5],[5.9,5.55],[6.2,6.8],[6.2,5.85],[6.5,7.1],[6.5,6.15],[6.8,7.4],[6.8,6.45],[7.1,7.7],[7.1,6.75],[7.4,8.0],[7.4,7.05],[7.7,8.3],[7.7,7.35],[8.0,8.6],[8.0,7.65],[8.3,8.85],[8.3,7.95],[8.6,9.1],[8.6,8.25],[8.9,9.4],[8.9,8.5]];
var rimK = [[2.3,2.95],[2.3,2.05],[2.6,3.3],[2.6,2.35],[2.9,3.75],[2.9,2.7],[3.2,4.2],[3.2,3.0],[3.5,4.6],[3.5,3.35],[3.8,4.9],[3.8,3.7],[4.1,5.2],[4.1,4.0],[4.4,5.45],[4.4,4.25],[4.7,5.75],[4.7,4.55],[5.0,6.0],[5.0,4.8],[5.3,6.25],[5.3,5.05],[5.6,6.45],[5.6,5.35],[5.9,6.7],[5.9,5.6],[6.2,6.9],[6.2,5.85],[6.5,7.1],[6.5,6.1],[6.8,7.35],[6.8,6.35],[7.1,7.6],[7.1,6.6],[7.4,7.85],[7.4,6.85],[7.7,8.1],[7.7,7.15],[8.0,8.4],[8.0,7.45],[8.3,8.65],[8.3,7.7],[8.6,8.95],[8.6,8.0],[8.9,9.25],[8.9,8.25],[9.2,9.5],[9.2,8.55],[9.5,9.8],[9.5,8.85],[9.8,10.05],[9.8,9.1],[10.1,10.3],[10.1,9.4]];
var rimL = [[3.0,3.45],[3.0,2.7],[3.3,3.75],[3.3,3.0],[3.6,4.05],[3.6,3.3],[3.9,4.4],[3.9,3.55],[4.2,4.7],[4.2,3.85],[4.5,5.0],[4.5,4.15],[4.8,5.3],[4.8,4.45],[5.1,5.6],[5.1,4.75],[5.4,5.95],[5.4,5.05],[5.7,6.3],[5.7,5.35],[6.0,6.65],[6.0,5.65],[6.3,7.0],[6.3,5.95],[6.6,7.3],[6.6,6.25],[6.9,7.55],[6.9,6.55],[7.2,7.8],[7.2,6.85],[7.5,8.05],[7.5,7.15],[7.8,8.3],[7.8,7.45],[8.1,8.6],[8.1,7.75],[8.4,8.9],[8.4,8.05],[8.7,9.15],[8.7,8.35],[9.0,9.4],[9.0,8.6]];

var edgePoints = [ptsD, ptsE, ptsF, ptsG, ptsH, ptsI, ptsJ, ptsK, ptsL];
var corePoints = [coreD, coreE, coreF, coreG, coreH, coreI, coreJ, coreK, coreL];
var fillPoints = [fillD, fillE, fillF, fillG, fillH, fillI, fillJ, fillK, fillL];
var rimPoints = [rimD, rimE, rimF, rimG, rimH, rimI, rimJ, rimK, rimL];

// layout in page pixels
var plotBoxes = [
    [303, 1302, 65, 1105], [1668, 2678, 65, 1093], [3028, 4056, 65, 1128],
    [281, 1260, 1560, 2556], [1660, 2680, 1560, 2590], [3062, 4015, 1560, 2580],
    [281, 1300, 3052, 4098], [1684, 2679, 3052, 4090], [3020, 4056, 3052, 4108]
];
var eqPos = [[858, 867, 951], [2270, 953, 1036], [3683, 888, 972],
             [861, 2408, 2492], [2306, 2470, 2552], [3608, 2442, 2526],
             [909, 3988, 4074], [2249, 3935, 4018], [3656, 3983, 4067]];
var yTitlePos = [[76, 558], [1475, 558], [2842, 506], [90, 1990], [1451, 2045], [2861, 2042],
                 [82, 3527], [1483, 3527], [2828, 3534]];
var xTitlePos = [[835, 1317], [2212, 1293], [3554, 1330], [817, 2803], [2200, 2811], [3580, 2802],
                 [835, 4300], [2244, 4300], [3578, 4309]];
var tagX = [383, 1760, 3137];
var tagY = [226, 1716, 3210];

var W = 4120, H = 4368;
// the figure is drawn in 4120x4368 units and stretched onto the window
var svg = d3.select("#chart").append("svg")
    .attr("viewBox", "0 0 " + W + " " + H)
    .attr("preserveAspectRatio", "none");

var lineGen = d3.line();

panelTags.forEach(function(tag, i) {
    var b = plotBoxes[i];
    var max = axisMax[i];
    var x = d3.scaleLinear().domain([0, max]).range([b[0], b[1]]);
    var y = d3.scaleLinear().domain([0, max]).range([b[3], b[2]]);
    var ticks = d3.range(0, max + 0.001, tickStep[i]);
    var pts = edgePoints[i].concat(corePoints[i], fillPoints[i], rimPoints[i]);
    var g = svg.append("g").attr("class", "panel");

    // frame: black top/right, grey axes left/bottom
    g.append("path")
        .attr("d", "M" + x(0) + "," + y(max) + "H" + x(max) + "V" + y(0))
        .attr("fill", "none")
        .attr("stroke", "#000")
        .attr("stroke-width", 4);

    var yAxis = g.append("g")
        .attr("transform", "translate(" + x(0) + ",0)")
        .call(d3.axisLeft(y).tickValues(ticks).tickSize(0).tickSizeOuter(0).tickPadding(62));
    var xAxis = g.append("g")
        .attr("transform", "translate(0," + y(0) + ")")
        .call(d3.axisBottom(x).tickValues(ticks).tickSize(0).tickSizeOuter(0).tickPadding(62));
    [yAxis, xAxis].forEach(function(ax) {
        ax.attr("font-family", null).attr("font-size", null);
        ax.select(".domain").attr("stroke", "#bfbfbf").attr("stroke-width", 4);
        ax.selectAll("text")
            .attr("font-size", 74)
            .attr("fill", "#000");
    });

    // 1:1 line
    g.append("path")
        .attr("d", lineGen([[x(0), y(0)], [x(max), y(max)]]))
        .attr("stroke", "#e6195e")
        .attr("stroke-width", 17)
        .attr("stroke-linecap", "round")
        .attr("stroke-dasharray", "0 36")
        .attr("fill", "none");

    // scatter
    g.selectAll("circle.pt")
        .data(pts)
        .enter()
        .append("circle")
        .attr("class", "pt")
        .attr("cx", function(d) { return x(d[0]); })
        .attr("cy", function(d) { return y(d[1]); })
        .attr("r", 17.5)
        .attr("fill", "none")
        .attr("stroke", "#0000c0")
        .attr("stroke-width", 5);

    // fitted line through origin
    if (showTrend[i]) {
        var ext = d3.extent(pts, function(d) { return d[0]; });
        g.append("path")
            .attr("d", lineGen([[x(ext[0]), y(ext[0] * slopes[i])], [x(ext[1]), y(ext[1] * slopes[i])]]))
            .attr("stroke", "#4a7dc0")
            .attr("stroke-width", 12)
            .attr("stroke-linecap", "round")
            .attr("stroke-dasharray", "0 25")
            .attr("fill", "none");
    }

    if (originDot[i]) {
        g.append("circle")
            .attr("cx", x(0))
            .attr("cy", y(0))
            .attr("r", 22)
            .attr("fill", "#a6a6a6");
    }

    // text
    g.append("text")
        .attr("x", tagX[i % 3])
        .attr("y", tagY[Math.floor(i / 3)])
        .attr("font-size", 84)
        .attr("font-weight", "bold")
        .text(tag);

    g.append("text")
        .attr("x", eqPos[i][0])
        .attr("y", eqPos[i][1])
        .attr("font-size", 75)
        .text("y = " + slopeText[i] + "x");
    g.append("text")
        .attr("x", eqPos[i][0])
        .attr("y", eqPos[i][2])
        .attr("font-size", 75)
        .text("R\u00b2 = " + r2Text[i]);

    g.append("text")
        .attr("transform", "translate(" + yTitlePos[i][0] + "," + yTitlePos[i][1] + ") rotate(-90)")
        .attr("text-anchor", "middle")
        .attr("dominant-baseline", "central")
        .attr("font-size", 83)
        .attr("font-weight", "bold")
        .text("RF ETo");

    g.append("text")
        .attr("x", xTitlePos[i][0])
        .attr("y", xTitlePos[i][1])
        .attr("text-anchor", "middle")
        .attr("font-size", 83)
        .attr("font-weight", "bold")
        .text("P-M ETo");
});
</script>
</body>
</html>
